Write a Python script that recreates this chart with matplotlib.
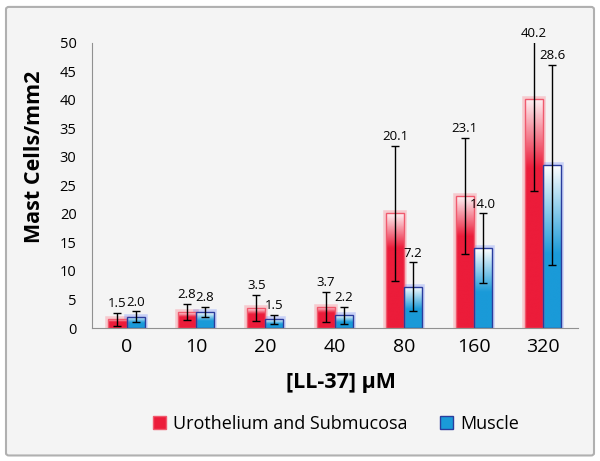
import matplotlib.pyplot as plt
import numpy as np
from matplotlib.patches import FancyBboxPatch
from matplotlib.colors import LinearSegmentedColormap

categories = ['0', '10', '20', '40', '80', '160', '320']
uro = [1.5, 2.8, 3.5, 3.7, 20.1, 23.1, 40.2]
uro_err = [1.2, 1.4, 2.3, 2.6, 11.8, 10.2, 16.1]
muscle = [2.0, 2.8, 1.5, 2.2, 7.2, 14.0, 28.6]
muscle_err = [0.9, 0.9, 0.8, 1.5, 4.3, 6.1, 17.5]

red = '#ec1c3a'
blue = '#1a9ad8'
blue_edge = '#2a3c9c'

fig = plt.figure(figsize=(6, 4.61), dpi=100)
fig.patch.set_facecolor('white')
fig.patches.append(FancyBboxPatch((0.01, 0.012), 0.98, 0.973, boxstyle='round,pad=0,rounding_size=0.005',
                                  transform=fig.transFigure, facecolor='#f4f4f4',
                                  edgecolor='#b0b0b0', linewidth=1.5, zorder=-1))
ax = fig.add_axes([0.153, 0.2885, 0.81, 0.6185])
ax.set_facecolor('none')

x = np.arange(len(categories))
w = 0.26


def grad_bars(xs, vals, color, top, stop, edge, glow):
    cmap = LinearSegmentedColormap.from_list('g', [(0, top), (stop, color), (1, color)])
    grad = np.linspace(0, 1, 100).reshape(-1, 1)
    bars = ax.bar(xs, vals, w, color=color, edgecolor=edge, linewidth=1.0, zorder=2)
    for b in bars:
        x0, y0 = b.get_x(), b.get_y()
        bw, bh = b.get_width(), b.get_height()
        # soft glow around the bar
        ax.bar(x0 + bw / 2, bh, bw, color='none', edgecolor=glow, linewidth=4, alpha=0.25, zorder=1.5)
        im = ax.imshow(grad, cmap=cmap, aspect='auto', extent=[x0, x0 + bw, y0, y0 + bh],
                       zorder=2.1, interpolation='bicubic')
        im.set_clip_path(b)
        b.set_facecolor('none')
        b.set_zorder(2.2)
    return bars


grad_bars(x - w / 2, uro, red, '#fdf0f2', 0.3, '#f05a6e', '#ff5060')
grad_bars(x + w / 2, muscle, blue, '#ffffff', 0.55, blue_edge, '#4a6cff')

ax.errorbar(x - w / 2, uro, yerr=uro_err, fmt='none', ecolor='black', elinewidth=1, capsize=3, zorder=3)
ax.errorbar(x + w / 2, muscle, yerr=muscle_err, fmt='none', ecolor='black', elinewidth=1, capsize=3, zorder=3)

for xi, v, e in zip(x - w / 2, uro, uro_err):
    ax.text(xi, min(v + e, 50) + 0.5, f'{v:.1f}', ha='center', va='bottom', fontsize=9.5, family='Open Sans', clip_on=False)
for xi, v, e in zip(x + w / 2, muscle, muscle_err):
    ax.text(xi, min(v + e, 50) + 0.5, f'{v:.1f}', ha='center', va='bottom', fontsize=9.5, family='Open Sans', clip_on=False)

ax.set_xlim(-0.5, len(categories) - 0.5)
ax.set_ylim(0, 50)
ax.set_yticks(np.arange(0, 51, 5))
ax.set_xticks(x)
ax.set_xticklabels(categories, fontsize=14, family='Open Sans')
for lab in ax.get_yticklabels():
    lab.set_fontsize(10.5)
    lab.set_family('Open Sans')
ax.tick_params(axis='both', length=0)
ax.tick_params(axis='y', pad=11)
ax.tick_params(axis='x', pad=7)
for s in ['top', 'right']:
    ax.spines[s].set_visible(False)
ax.spines['left'].set_color('#909090')
ax.spines['bottom'].set_color('#909090')

ax.set_ylabel('Mast Cells/mm2', fontsize=15.5, fontweight='bold', family='Open Sans')
ax.yaxis.set_label_coords(-0.096, 0.6)
fig.text(0.568, 0.171, '[LL-37] \u03bcM', ha='center', va='center', fontsize=15.5,
         fontweight='bold', family='Open Sans')

# legend
h1 = plt.Rectangle((0, 0), 1, 1, facecolor=red, edgecolor='#f05a6e')
h2 = plt.Rectangle((0, 0), 1, 1, facecolor=blue, edgecolor=blue_edge)
fig.legend([h1, h2], ['Urothelium and Submucosa', 'Muscle'], loc='center', bbox_to_anchor=(0.56, 0.08),
           ncol=2, frameon=False, prop={'family': 'Open Sans', 'size': 13}, handlelength=0.7,
           handleheight=0.7, handletextpad=0.4, columnspacing=1.8)

fig.savefig('out.png', dpi=100)
